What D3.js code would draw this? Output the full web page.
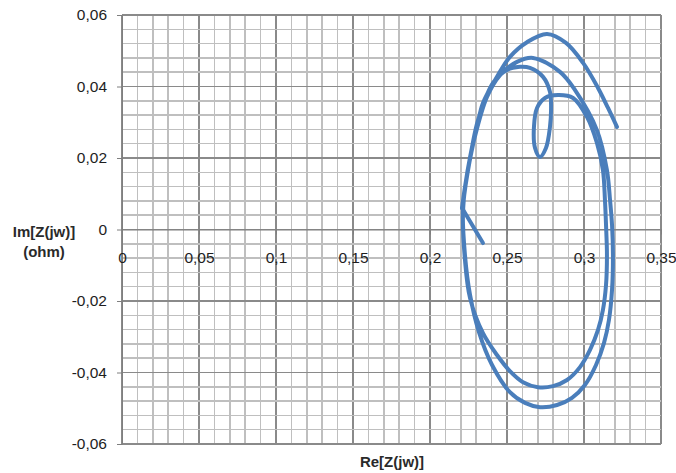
<!DOCTYPE html>
<script src="https://d3js.org/d3.v7.min.js"></script>
<body style="margin: 0; background: #fff;">
<svg id="chart" width="676" height="473"></svg>
</body>

<style>
  .grid line { shape-rendering: crispEdges; }
  .axis text { font-family: "Liberation Sans", Arial, sans-serif; font-size: 15.5px; fill: #1e1e1e; }
  .axis path, .axis line { stroke: #7f7f7f; }
  .title { font-family: "Liberation Sans", Arial, sans-serif; font-size: 15px; font-weight: bold; fill: #2a2a2a; }
</style>

<script>

// Nyquist trace (Re, Im) in ohm
var reZ = [0.3214, 0.3156, 0.3091, 0.2994, 0.2883, 0.2760, 0.2630, 0.2519, 0.2435, 0.2344,
           0.2305, 0.2247, 0.2214, 0.2227, 0.2260, 0.2318, 0.2403, 0.2519, 0.2617, 0.2714,
           0.2825, 0.2922, 0.3006, 0.3078, 0.3130, 0.3162, 0.3182, 0.3188, 0.3182, 0.3169,
           0.3149, 0.3084, 0.2942, 0.2844, 0.2669, 0.2565, 0.2455, 0.2370, 0.2286, 0.2234,
           0.2214, 0.2227, 0.2260, 0.2344, 0.2435, 0.2519, 0.2604, 0.2701, 0.2799, 0.2890,
           0.2974, 0.3039, 0.3091, 0.3123, 0.3143, 0.3149, 0.3143, 0.3136, 0.3123, 0.3084,
           0.3019, 0.2929, 0.2831, 0.2747, 0.2695, 0.2675, 0.2682, 0.2714, 0.2753, 0.2779,
           0.2786, 0.2779, 0.2734, 0.2649, 0.2584, 0.2500, 0.2409, 0.2312, 0.2273, 0.2227,
           0.2208, 0.2344];
var imZ = [0.0287, 0.0340, 0.0396, 0.0466, 0.0522, 0.0547, 0.0524, 0.0483, 0.0427, 0.0354,
           0.0287, 0.0166, 0.0055, -0.0071, -0.0183, -0.0287, -0.0379, -0.0455, -0.0485, -0.0497,
           -0.0491, -0.0471, -0.0435, -0.0379, -0.0317, -0.0253, -0.0169, -0.0071, 0.0013, 0.0083,
           0.0166, 0.0278, 0.0390, 0.0441, 0.0480, 0.0469, 0.0432, 0.0371, 0.0250, 0.0138,
           0.0041, -0.0085, -0.0192, -0.0290, -0.0351, -0.0396, -0.0427, -0.0441, -0.0438, -0.0421,
           -0.0385, -0.0337, -0.0281, -0.0225, -0.0155, -0.0071, 0.0013, 0.0083, 0.0166, 0.0242,
           0.0315, 0.0368, 0.0376, 0.0368, 0.0340, 0.0287, 0.0228, 0.0203, 0.0228, 0.0287,
           0.0334, 0.0385, 0.0427, 0.0452, 0.0455, 0.0446, 0.0410, 0.0306, 0.0231, 0.0119,
           0.0060, -0.0038];
var cuspIndex = 80; // sharp corner where the short tail leaves the spiral

var xTicks = [0, 0.05, 0.1, 0.15, 0.2, 0.25, 0.3, 0.35];
var yTicks = [-0.06, -0.04, -0.02, 0, 0.02, 0.04, 0.06];

var svg = d3.select("#chart");
var plotLeft = 122, plotRight = 661, plotTop = 15, plotBottom = 444;

var x = d3.scaleLinear().domain([0, 0.35]).range([plotLeft, plotRight]);
var y = d3.scaleLinear().domain([-0.06, 0.06]).range([plotBottom, plotTop]);

var fmt = d3.formatLocale({decimal: ",", thousands: ".", grouping: [3], currency: ["", ""], minus: "-"}).format("~g");

// grid
var grid = svg.append("g").attr("class", "grid");
grid.selectAll(".vx").data(d3.range(0, 36).map(function(i) { return i / 100; }))
  .join("line")
    .attr("class", "vx")
    .attr("x1", function(d) { return x(d); }).attr("x2", function(d) { return x(d); })
    .attr("y1", plotTop).attr("y2", plotBottom)
    .attr("stroke", function(d, i) { return i % 5 == 0 ? "#8a8a8a" : "#bfbfbf"; })
    .attr("stroke-width", 1.5);
grid.selectAll(".hy").data(d3.range(0, 31).map(function(i) { return -0.06 + i * 0.004; }))
  .join("line")
    .attr("class", "hy")
    .attr("y1", function(d) { return y(d); }).attr("y2", function(d) { return y(d); })
    .attr("x1", plotLeft).attr("x2", plotRight)
    .attr("stroke", function(d, i) { return i % 5 == 0 ? "#8a8a8a" : "#bfbfbf"; })
    .attr("stroke-width", 1.5);

// axes
svg.append("g").attr("class", "axis")
   .attr("transform", "translate(" + plotLeft + ",0)")
   .call(d3.axisLeft(y).tickValues(yTicks).tickFormat(fmt).tickSize(5).tickPadding(10).tickSizeOuter(0));

svg.append("g").attr("class", "axis")
   .attr("transform", "translate(0," + y(0) + ")")
   .call(d3.axisBottom(x).tickValues(xTicks).tickFormat(fmt).tickSize(5).tickPadding(17).tickSizeOuter(0));

// curve
var pts = reZ.map(function(d, i) { return [d, imZ[i]]; });
var smooth = d3.line().curve(d3.curveCatmullRom.alpha(0.5))
    .x(function(d) { return x(d[0]); })
    .y(function(d) { return y(d[1]); });
var straight = d3.line()
    .x(function(d) { return x(d[0]); })
    .y(function(d) { return y(d[1]); });

svg.append("g")
   .attr("fill", "none")
   .attr("stroke", "#4a7ebb")
   .attr("stroke-width", 4)
   .attr("stroke-linejoin", "round")
   .attr("stroke-linecap", "round")
  .selectAll("path")
  .data([smooth(pts.slice(0, cuspIndex + 1)), straight([pts[cuspIndex], pts[pts.length - 1]])])
  .join("path")
   .attr("d", function(d) { return d; });

// titles
svg.append("text").attr("class", "title").attr("x", 44).attr("y", 237).attr("text-anchor", "middle").text("Im[Z(jw)]");
svg.append("text").attr("class", "title").attr("x", 44).attr("y", 257).attr("text-anchor", "middle").text("(ohm)");
svg.append("text").attr("class", "title").attr("x", 392).attr("y", 467).attr("text-anchor", "middle").text("Re[Z(jw)]");

</script>
